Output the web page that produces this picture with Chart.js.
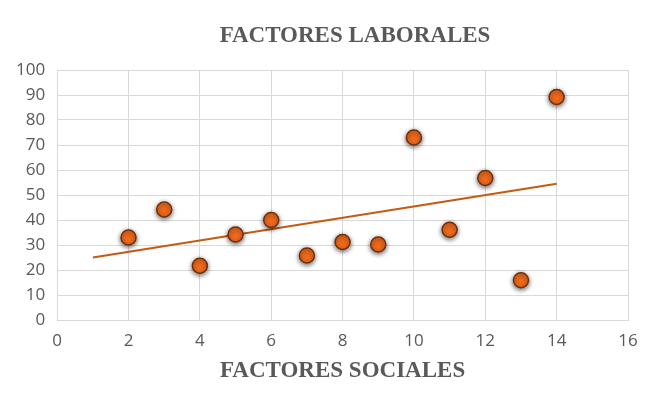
<!DOCTYPE html>
<html>
<head>
<meta charset="utf-8">
<script src="https://cdn.jsdelivr.net/npm/chart.js@4/dist/chart.umd.min.js"></script>
<style>
  html, body { margin: 0; padding: 0; background: #fff; }
  #wrap { width: 658px; height: 396px; }
</style>
</head>
<body>
<div id="wrap"><canvas id="chart-factores"></canvas></div>
<script>
// datos
var factoresSociales = [2, 3, 4, 5, 6, 7, 8, 9, 10, 11, 12, 13, 14];
var factoresLaborales = [33, 44.2, 21.7, 34.2, 40, 25.8, 31.2, 30.2, 73, 36.1, 56.8, 15.9, 89.2];
var trendRange = [1, 14];
var xTicks = [0, 2, 4, 6, 8, 10, 12, 14, 16];
var yTicks = [0, 10, 20, 30, 40, 50, 60, 70, 80, 90, 100];

// linea de tendencia lineal (minimos cuadrados)
var n = factoresSociales.length;
var mx = factoresSociales.reduce(function (a, b) { return a + b; }, 0) / n;
var my = factoresLaborales.reduce(function (a, b) { return a + b; }, 0) / n;
var sxy = 0, sxx = 0;
for (var i = 0; i < n; i++) {
  sxy += (factoresSociales[i] - mx) * (factoresLaborales[i] - my);
  sxx += (factoresSociales[i] - mx) * (factoresSociales[i] - mx);
}
var slope = sxy / sxx;
var trendPoints = trendRange.map(function (x) {
  return { x: x, y: my + slope * (x - mx) };
});

var points = factoresSociales.map(function (x, i) {
  return { x: x, y: factoresLaborales[i] };
});

var shadowPlugin = {
  id: "dotShadow",
  beforeDatasetDraw: function (chart, args) {
    if (args.index !== 1) return;
    var c = chart.ctx;
    c.save();
    c.shadowColor = "rgba(0,0,0,0.6)";
    c.shadowBlur = 5;
    c.shadowOffsetX = 0;
    c.shadowOffsetY = 1.5;
  },
  afterDatasetDraw: function (chart, args) {
    if (args.index !== 1) return;
    chart.ctx.restore();
  },
};

var titlePlugin = {
  id: "mainTitle",
  afterDraw: function (chart) {
    var c = chart.ctx;
    c.save();
    c.font = "bold 23px 'Liberation Serif'";
    c.fillStyle = "#595959";
    c.textAlign = "center";
    c.textBaseline = "middle";
    c.fillText("FACTORES LABORALES", 355, 36);
    c.restore();
  },
};

var ctx = document.getElementById("chart-factores").getContext("2d");

new Chart(ctx, {
  type: "scatter",
  data: {
    datasets: [
      {
        type: "line",
        label: "Lineal",
        data: trendPoints,
        borderColor: "#C55A11",
        borderWidth: 2,
        pointRadius: 0,
        fill: false,
        order: 2,
      },
      {
        label: "Factores",
        data: points,
        backgroundColor: "#F26B1D",
        borderColor: "#6E2F0C",
        borderWidth: 1.5,
        pointRadius: 7.5,
        pointHoverRadius: 7.5,
        order: 1,
      },
    ],
  },
  options: {
    responsive: true,
    maintainAspectRatio: false,
    animation: false,
    layout: {
      padding: { top: 70, right: 30, bottom: 5, left: 4 },
    },
    plugins: {
      legend: { display: false },
      tooltip: { enabled: false },
    },
    scales: {
      x: {
        type: "linear",
        min: 0,
        max: 16,
        afterBuildTicks: function (axis) {
          axis.ticks = xTicks.map(function (v) { return { value: v }; });
        },
        grid: {
          color: "#D9D9D9",
          drawTicks: false,
        },
        border: { color: "#D9D9D9" },
        ticks: {
          padding: 11,
          font: { size: 17, family: "Open Sans" },
          color: "#595959",
        },
        title: {
          display: true,
          text: "FACTORES SOCIALES",
          font: { size: 23, family: "Liberation Serif", weight: "bold" },
          color: "#595959",
          padding: { top: -5, bottom: 6 },
        },
      },
      y: {
        type: "linear",
        min: 0,
        max: 100,
        afterBuildTicks: function (axis) {
          axis.ticks = yTicks.map(function (v) { return { value: v }; });
        },
        grid: {
          color: "#D9D9D9",
          drawTicks: false,
        },
        border: { color: "#D9D9D9" },
        ticks: {
          padding: 12,
          font: { size: 17, family: "Open Sans" },
          color: "#595959",
        },
      },
    },
  },
  plugins: [shadowPlugin, titlePlugin],
});
</script>
</body>
</html>
